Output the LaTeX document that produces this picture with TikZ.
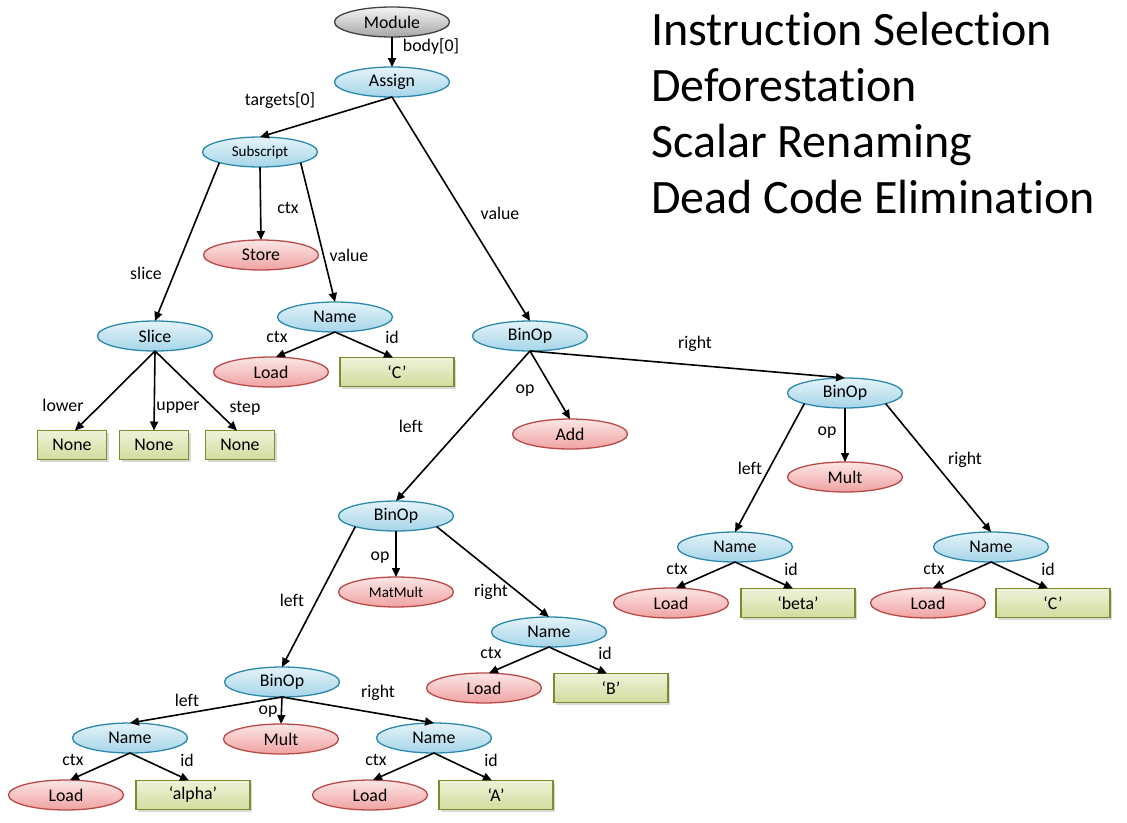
\documentclass[tikz,border=0pt]{standalone}
\usepackage{fontspec}
\setmainfont[RawFeature={-liga;-clig;-calt;-dlig}]{Carlito}
\usetikzlibrary{arrows.meta,shapes.geometric,shadows}
\definecolor{bluefillA}{HTML}{E4F3F9}
\definecolor{bluefillB}{HTML}{A6D5E8}
\definecolor{blueline}{HTML}{2C89AE}
\definecolor{redfillA}{HTML}{FCE6E6}
\definecolor{redfillB}{HTML}{F0A2A2}
\definecolor{redline}{HTML}{B94A48}
\definecolor{grnfillA}{HTML}{EEF2D8}
\definecolor{grnfillB}{HTML}{D3DC9E}
\definecolor{grnline}{HTML}{7D8B2E}
\definecolor{grayfillA}{HTML}{F4F4F4}
\definecolor{grayfillB}{HTML}{A6A6A6}
\definecolor{grayline}{HTML}{404040}
\tikzset{
  x=1pt, y=-1pt,
  nfont/.style={font=\fontsize{17.8}{20}\selectfont},
  sfont/.style={font=\fontsize{15}{17}\selectfont},
  oval/.style={ellipse, minimum width=115pt, minimum height=30pt, inner sep=0pt, outer sep=0pt, line width=1.3pt, nfont},
  astnode/.style={oval, draw=blueline, top color=bluefillA, bottom color=bluefillB},
  ctxnode/.style={oval, draw=redline, top color=redfillA, bottom color=redfillB},
  rootnode/.style={oval, draw=grayline, top color=grayfillA, bottom color=grayfillB},
  valbox/.style={rectangle, minimum width=114pt, minimum height=29pt, inner sep=0pt, outer sep=0pt, line width=1.3pt, draw=grnline, top color=grnfillA, bottom color=grnfillB, nfont, drop shadow={shadow xshift=2pt, shadow yshift=-2pt, opacity=0.3}},
  nonebox/.style={valbox, minimum width=69pt},
  lbl/.style={nfont, inner sep=0pt},
  conn/.style={line width=1.6pt, -{Triangle[length=9pt,width=8pt]}},
  titletext/.style={font=\fontsize{48}{56}\selectfont, anchor=base west, inner sep=0pt}
}
\begin{document}
\begin{tikzpicture}
\useasboundingbox (0,0) rectangle (1127,822);
% title
\node[titletext] (t1) at (651,45) {Instruct\kern0pt ion Select\kern0pt ion};
\node[titletext] (t2) at (651,101) {Deforestat\kern0pt ion};
\node[titletext] (t3) at (651,157) {Scalar Renaming};
\node[titletext] (t4) at (651,213) {Dead Code Eliminat\kern0pt ion};
% nodes
\node[rootnode] (mod) at (392,22) {Module};
\node[astnode] (asg) at (392,82) {Assign};
\node[astnode, sfont] (sub) at (260,152) {Subscript};
\node[ctxnode] (store) at (261,255) {Store};
\node[astnode] (slice) at (155,336) {Slice};
\node[astnode] (n1) at (335,317) {Name};
\node[ctxnode] (l1) at (271,372) {Load};
\node[valbox] (c1) at (397,372) {‘C’};
\node[nonebox] (none1) at (72,445) {None};
\node[nonebox] (none2) at (154,445) {None};
\node[nonebox] (none3) at (240,445) {None};
\node[astnode] (b1) at (530,336) {BinOp};
\node[ctxnode] (add) at (570,434) {Add};
\node[astnode] (b2) at (845,393) {BinOp};
\node[ctxnode] (mult2) at (845,477) {Mult};
\node[astnode] (n2) at (735,547) {Name};
\node[ctxnode] (l2) at (671,603) {Load};
\node[valbox] (beta) at (798,603) {‘beta’};
\node[astnode] (n3) at (991,547) {Name};
\node[ctxnode] (l3) at (928,603) {Load};
\node[valbox] (c3) at (1053,603) {‘C’};
\node[astnode] (b3) at (396,516) {BinOp};
\node[ctxnode, sfont] (mm) at (396,592) {MatMult};
\node[astnode] (n4) at (549,632) {Name};
\node[ctxnode] (l4) at (484,688) {Load};
\node[valbox] (bbox) at (611,688) {‘B’};
\node[astnode] (b4) at (282,682) {BinOp};
\node[astnode] (n5) at (130,738) {Name};
\node[ctxnode] (mult4) at (281,739) {Mult};
\node[astnode] (n6) at (434,738) {Name};
\node[ctxnode] (l5) at (66,795) {Load};
\node[valbox] (alpha) at (193,795) {‘alpha’};
\node[ctxnode] (l6) at (370,795) {Load};
\node[valbox] (abox) at (496,795) {‘A’};
% connectors
\draw[conn] (mod.south) -- (asg.north);
\draw[conn] (asg.south) -- (sub.north);
\draw[conn] (asg.south) -- (b1.north);
\draw[conn] (sub.south west) -- (slice.north);
\draw[conn] (sub.south) -- (store.north);
\draw[conn] (sub.south east) -- (n1.north);
\draw[conn] (slice.south) -- ([xshift=3pt]none1.north);
\draw[conn] (slice.south) -- (none2.north);
\draw[conn] (slice.south) -- ([xshift=-3pt]none3.north);
\draw[conn] (n1.south) -- ([xshift=5pt]l1.north);
\draw[conn] (n1.south) -- ([xshift=-4pt]c1.north);
\draw[conn] (b1.south) -- (b2.north);
\draw[conn] (b1.south) -- (add.north);
\draw[conn] (b1.south) -- (b3.north);
\draw[conn] (b2.south west) -- (n2.north);
\draw[conn] (b2.south) -- (mult2.north);
\draw[conn] (b2.south east) -- (n3.north);
\draw[conn] (n2.south) -- ([xshift=5pt]l2.north);
\draw[conn] (n2.south) -- ([xshift=-5pt]beta.north);
\draw[conn] (n3.south) -- ([xshift=5pt]l3.north);
\draw[conn] (n3.south) -- ([xshift=-5pt]c3.north);
\draw[conn] (b3.south west) -- (b4.north);
\draw[conn] (b3.south) -- (mm.north);
\draw[conn] (b3.south east) -- (n4.north);
\draw[conn] (n4.south) -- ([xshift=5pt]l4.north);
\draw[conn] (n4.south) -- ([xshift=-4pt]bbox.north);
\draw[conn] (b4.south) -- (n5.north);
\draw[conn] (b4.south) -- (mult4.north);
\draw[conn] (b4.south) -- (n6.north);
\draw[conn] (n5.south) -- ([xshift=4pt]l5.north);
\draw[conn] (n5.south) -- ([xshift=-4pt]alpha.north);
\draw[conn] (n6.south) -- ([xshift=3pt]l6.north);
\draw[conn] (n6.south) -- ([xshift=-4pt]abox.north);
% labels
\node[lbl] (e1) at (431,47) {body[0]};
\node[lbl] (e2) at (280,101) {targets[0]};
\node[lbl] (e3) at (500,213) {value};
\node[lbl] (e4) at (288,208) {ctx};
\node[lbl] (e5) at (349,255) {value};
\node[lbl] (e6) at (146,273) {slice};
\node[lbl] (e7) at (63,405) {lower};
\node[lbl] (e8) at (178,408) {upper};
\node[lbl] (e9) at (245,408) {step};
\node[lbl] (e10) at (277,337) {ctx};
\node[lbl] (e11) at (392,337) {id};
\node[lbl] (e12) at (695,344) {right};
\node[lbl] (e13) at (525,391) {op};
\node[lbl] (e14) at (411,426) {left};
\node[lbl] (e15) at (827,433) {op};
\node[lbl] (e16) at (750,468) {left};
\node[lbl] (e17) at (965,460) {right};
\node[lbl] (e18) at (677,569) {ctx};
\node[lbl] (e19) at (791,569) {id};
\node[lbl] (e20) at (934,569) {ctx};
\node[lbl] (e21) at (1048,569) {id};
\node[lbl] (e22) at (380,558) {op};
\node[lbl] (e23) at (491,592) {right};
\node[lbl] (e24) at (292,600) {left};
\node[lbl] (e25) at (491,653) {ctx};
\node[lbl] (e26) at (605,653) {id};
\node[lbl] (e27) at (187,700) {left};
\node[lbl] (e28) at (268,712) {op};
\node[lbl] (e29) at (378,693) {right};
\node[lbl] (e30) at (376,760) {ctx};
\node[lbl] (e31) at (491,760) {id};
\node[lbl] (e32) at (73,760) {ctx};
\node[lbl] (e33) at (187,760) {id};
\end{tikzpicture}
\end{document}
